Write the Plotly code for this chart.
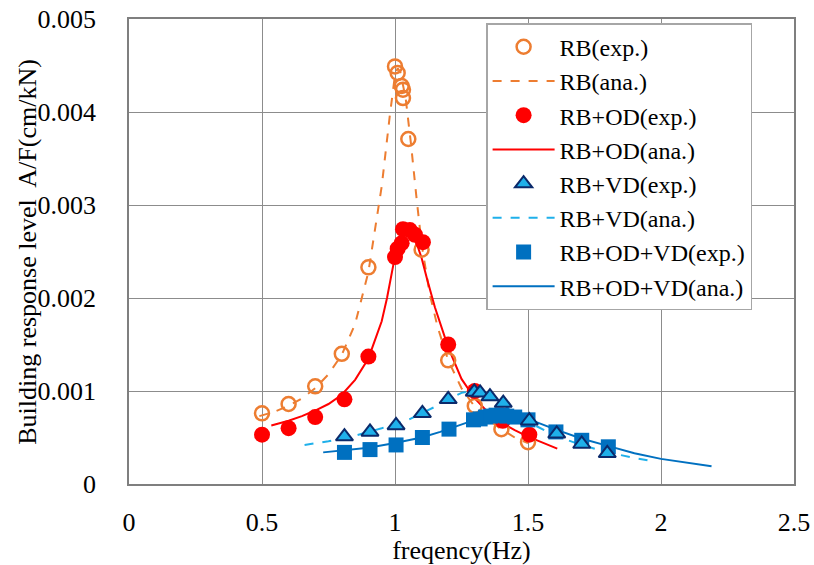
import plotly.graph_objects as go

# RB experimental
rb_exp_x = [0.5, 0.6, 0.7, 0.8, 0.9, 1.0, 1.01, 1.025, 1.03, 1.03, 1.05, 1.1, 1.2, 1.3, 1.4, 1.5]
rb_exp_y = [0.00076, 0.00086, 0.00105, 0.00140, 0.00233, 0.00449, 0.00442, 0.00428, 0.00424, 0.00415, 0.00371, 0.00252, 0.00133, 0.00084, 0.00059, 0.00045]
# RB analytic
rb_ana_x = [0.49, 0.55, 0.6, 0.65, 0.7, 0.75, 0.8, 0.85, 0.9, 0.95, 0.98, 1.0, 1.01, 1.02, 1.04, 1.06, 1.08, 1.1, 1.13, 1.16, 1.2, 1.25, 1.3, 1.35, 1.4, 1.45, 1.5]
rb_ana_y = [0.00073, 0.00078, 0.00084, 0.00092, 0.00103, 0.00118, 0.00139, 0.00172, 0.00228, 0.00320, 0.00395, 0.00440, 0.00447, 0.00443, 0.00415, 0.00366, 0.00310, 0.00258, 0.00205, 0.00169, 0.00133, 0.00103, 0.00083, 0.00069, 0.00059, 0.00050, 0.00044]
# RB+OD experimental
od_exp_x = [0.5, 0.6, 0.7, 0.81, 0.9, 1.0, 1.01, 1.025, 1.03, 1.056, 1.075, 1.105, 1.2, 1.3, 1.405, 1.505]
od_exp_y = [0.00053, 0.00060, 0.00072, 0.00091, 0.00137, 0.00244, 0.00253, 0.00259, 0.00274, 0.00273, 0.00268, 0.00260, 0.00150, 0.00100, 0.00068, 0.00053]
# RB+OD analytic
od_ana_x = [0.535, 0.6, 0.65, 0.7, 0.75, 0.8, 0.85, 0.9, 0.95, 0.97, 1.0, 1.02, 1.04, 1.06, 1.08, 1.1, 1.12, 1.15, 1.2, 1.25, 1.3, 1.35, 1.4, 1.45, 1.5, 1.55, 1.61]
od_ana_y = [0.00063, 0.00068, 0.00073, 0.00079, 0.00086, 0.00096, 0.00112, 0.00135, 0.00175, 0.00200, 0.00245, 0.00265, 0.00272, 0.00270, 0.00260, 0.00243, 0.00221, 0.00190, 0.00147, 0.00113, 0.00092, 0.00077, 0.00066, 0.00058, 0.00051, 0.00045, 0.00038]
# RB+VD experimental
vd_exp_x = [0.81, 0.906, 1.004, 1.103, 1.2, 1.298, 1.32, 1.357, 1.407, 1.505, 1.608, 1.702, 1.798]
vd_exp_y = [0.00051, 0.00056, 0.00063, 0.00076, 0.00091, 0.00099, 0.00098, 0.00094, 0.00087, 0.00068, 0.00054, 0.00043, 0.00033]
# RB+VD analytic
vd_ana_x = [0.66, 0.75, 0.85, 0.95, 1.05, 1.15, 1.2, 1.25, 1.3, 1.35, 1.4, 1.45, 1.5, 1.6, 1.7, 1.8, 1.9, 1.98]
vd_ana_y = [0.00042, 0.00046, 0.00052, 0.00060, 0.00069, 0.00083, 0.00091, 0.00098, 0.00101, 0.00097, 0.00087, 0.00076, 0.00067, 0.00052, 0.00042, 0.00034, 0.00028, 0.00024]
# RB+OD+VD experimental
odvd_exp_x = [0.81, 0.906, 1.004, 1.103, 1.203, 1.295, 1.32, 1.34, 1.36, 1.38, 1.4, 1.42, 1.45, 1.5, 1.605, 1.702, 1.802]
odvd_exp_y = [0.00034, 0.00037, 0.00042, 0.00050, 0.00059, 0.00069, 0.00070, 0.00072, 0.00073, 0.00074, 0.00074, 0.00073, 0.00072, 0.00069, 0.00056, 0.00047, 0.00040]
# RB+OD+VD analytic
odvd_ana_x = [0.73, 0.8, 0.9, 1.0, 1.1, 1.17, 1.25, 1.3, 1.35, 1.4, 1.45, 1.5, 1.6, 1.7, 1.8, 1.9, 2.0, 2.1, 2.19]
odvd_ana_y = [0.00034, 0.00036, 0.00039, 0.00044, 0.00050, 0.00056, 0.00064, 0.00069, 0.00073, 0.00074, 0.00073, 0.00070, 0.00059, 0.00049, 0.00041, 0.00033, 0.00027, 0.00023, 0.00019]

x_ticks = [0, 0.5, 1, 1.5, 2, 2.5]
x_ticklabels = ["0", "0.5", "1", "1.5", "2", "2.5"]
y_ticks = [0, 0.001, 0.002, 0.003, 0.004, 0.005]
y_ticklabels = ["0", "0.001", "0.002", "0.003", "0.004", "0.005"]
x_title = "freqency(Hz)"
y_title = "Building response level  A/F(cm/kN)"

ORANGE = "#ED7D31"
RED = "#FF0000"
LIGHTBLUE = "#1FB0EA"
NAVY = "#0B2A6B"
BLUE = "#0070C0"
FONT = "Liberation Serif, Times New Roman, serif"
TXT = dict(family=FONT, size=26, color="black")

fig = go.Figure()
fig.add_trace(go.Scatter(x=rb_ana_x, y=rb_ana_y, mode="lines", name="RB(ana.)",
                         line=dict(color=ORANGE, width=2, dash="dash"), legendrank=2))
fig.add_trace(go.Scatter(x=od_ana_x, y=od_ana_y, mode="lines", name="RB+OD(ana.)",
                         line=dict(color=RED, width=2), legendrank=4))
fig.add_trace(go.Scatter(x=vd_ana_x, y=vd_ana_y, mode="lines", name="RB+VD(ana.)",
                         line=dict(color=LIGHTBLUE, width=2, dash="dash"), legendrank=6))
fig.add_trace(go.Scatter(x=odvd_ana_x, y=odvd_ana_y, mode="lines", name="RB+OD+VD(ana.)",
                         line=dict(color=BLUE, width=2), legendrank=8))
fig.add_trace(go.Scatter(x=rb_exp_x, y=rb_exp_y, mode="markers", name="RB(exp.)",
                         marker=dict(symbol="circle-open", size=14, color=ORANGE, line=dict(width=2.5)),
                         legendrank=1))
fig.add_trace(go.Scatter(x=od_exp_x, y=od_exp_y, mode="markers", name="RB+OD(exp.)",
                         marker=dict(symbol="circle", size=16, color=RED), legendrank=3))
fig.add_trace(go.Scatter(x=odvd_exp_x, y=odvd_exp_y, mode="markers", name="RB+OD+VD(exp.)",
                         marker=dict(symbol="square", size=15, color=BLUE), legendrank=7))
fig.add_trace(go.Scatter(x=vd_exp_x, y=vd_exp_y, mode="markers", name="RB+VD(exp.)",
                         marker=dict(symbol="triangle-up", size=15, color=LIGHTBLUE,
                                     line=dict(color=NAVY, width=2)), legendrank=5))

fig.add_annotation(text=y_title, xref="paper", yref="paper", x=-0.153, y=0.5,
                   xanchor="center", yanchor="middle", textangle=-90, showarrow=False,
                   font=TXT)

fig.update_layout(
    width=814, height=565,
    margin=dict(l=129, r=20, t=19, b=81, autoexpand=False),
    paper_bgcolor="white", plot_bgcolor="white",
    font=TXT,
    showlegend=True,
    legend=dict(x=0.537, y=0.991, xanchor="left", yanchor="top",
                bgcolor="white", bordercolor="#A6A6A6", borderwidth=1.5,
                font=dict(family=FONT, size=24, color="black"), tracegroupgap=0,
                itemwidth=62),
    xaxis=dict(range=[0, 2.5], tickvals=x_ticks, ticktext=x_ticklabels, tickfont=TXT,
               showgrid=True, gridcolor="#8C8C8C", gridwidth=1,
               showline=True, linecolor="#7F7F7F", linewidth=1.5, mirror=True,
               zeroline=False, ticks="", ticklabelstandoff=14, automargin=False,
               title=dict(text=x_title, font=TXT, standoff=4)),
    yaxis=dict(range=[0, 0.005], tickvals=y_ticks, ticktext=y_ticklabels, tickfont=TXT,
               showgrid=True, gridcolor="#8C8C8C", gridwidth=1,
               showline=True, linecolor="#7F7F7F", linewidth=1.5, mirror=True,
               zeroline=False, ticks="", ticklabelstandoff=26, automargin=False),
)

fig.write_html("out.html")
